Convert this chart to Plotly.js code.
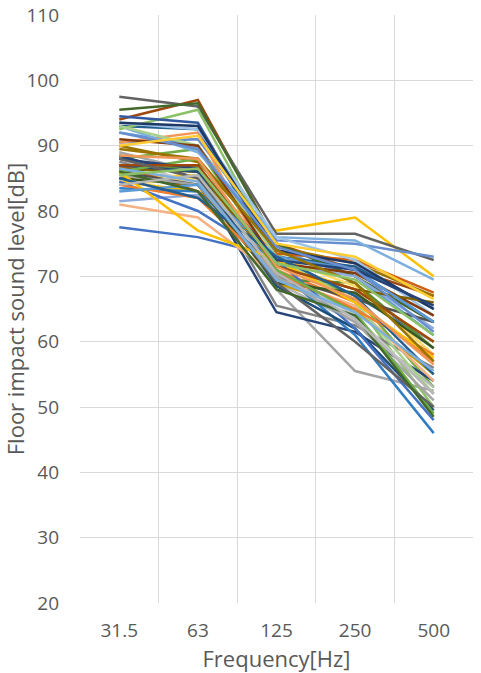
<!DOCTYPE html>
<html>
<head>
<meta charset="utf-8">
<script src="https://cdn.plot.ly/plotly-3.0.1.min.js"></script>
<style>html,body{margin:0;padding:0;background:#fff;}#chart{width:481px;height:673px;}</style>
</head>
<body>
<div id="chart"></div>
<script>
const frequencies = ["31.5", "63", "125", "250", "500"];

const s01 = [77.5, 76, 73, 67, 60];
const s02 = [86.5, 87, 71, 66, 57];
const s03 = [89, 86, 68, 55.5, 52.5];
const s04 = [84.5, 83, 77, 79, 70];
const s05 = [92, 90, 74, 70, 61];
const s06 = [88, 89.5, 72, 67, 53];
const s07 = [88.5, 85, 64.5, 61.5, 54];
const s08 = [94, 97, 75, 71, 67];
const s09 = [97.5, 96, 76.5, 76.5, 72.5];
const s10 = [90, 87.5, 74.5, 72, 67];
const s11 = [93, 92.5, 73, 71.5, 65];
const s12 = [95.5, 96.5, 75, 70, 63];
const s13 = [90.5, 91, 75.5, 75, 73];
const s14 = [90.5, 92, 70, 65, 58];
const s15 = [86, 85, 69, 63, 53];
const s16 = [85, 85.5, 72, 68, 60];
const s17 = [93, 89, 76, 75.5, 69.5];
const s18 = [92.5, 95.5, 73.5, 66, 50];
const s19 = [94.5, 93.5, 73, 71, 63];
const s20 = [87, 83, 73.5, 72.5, 67.5];
const s21 = [87.5, 86, 65.5, 62.5, 56];
const s22 = [85.5, 84, 69, 65, 55];
const s23 = [83.5, 83, 71, 61, 46];
const s24 = [86, 87, 69.5, 69, 59];
const s25 = [81.5, 82.5, 72, 70, 62];
const s26 = [81, 79, 70, 65.5, 54];
const s27 = [88, 84, 71, 64, 52];
const s28 = [84, 85, 73, 68.5, 58];
const s29 = [93.5, 92.5, 76, 72.5, 64];
const s30 = [93, 90, 73, 66, 52];
const s31 = [93.5, 93, 74, 72, 65];
const s32 = [91, 90, 72, 70.5, 64];
const s33 = [86, 84, 70, 66.5, 63];
const s34 = [86.5, 86, 71.5, 68, 66];
const s35 = [87, 86, 68.5, 62, 49.5];
const s36 = [85, 84, 69, 67.5, 59];
const s37 = [84.5, 80, 72.5, 62, 48];
const s38 = [84, 82, 70.5, 65, 58];
const s39 = [85.5, 84, 70, 63, 51];
const s40 = [86, 77, 72.5, 66, 57.5];
const s41 = [83, 84, 73, 71, 63];
const s42 = [86, 88, 71, 64.5, 49];
const s43 = [88, 86.5, 72.5, 71, 65.5];
const s44 = [87, 87, 71.5, 68, 60];
const s45 = [88, 85, 69, 60, 50];
const s46 = [89.5, 88, 74, 69, 57];
const s47 = [85, 82, 73, 67, 55];
const s48 = [86, 83, 68, 64, 48.5];
const s49 = [92, 89.5, 74.5, 71, 61.5];
const s50 = [88.5, 88, 71.5, 66.5, 56.5];
const s51 = [84, 85.5, 70.5, 63.5, 52];
const s52 = [90, 91.5, 75, 73, 66.5];
const s53 = [86.5, 84.5, 69.5, 64.5, 55.5];
const s54 = [85.5, 86.5, 72, 69.5, 61];

const seriesList = [s01,s02,s03,s04,s05,s06,s07,s08,s09,s10,s11,s12,s13,s14,s15,s16,
  s17,s18,s19,s20,s21,s22,s23,s24,s25,s26,s27,s28,s29,s30,s31,s32,s33,s34,s35,s36,
  s37,s38,s39,s40,s41,s42,s43,s44,s45,s46,s47,s48,s49,s50,s51,s52,s53,s54];

const palette = ["#4472C4","#ED7D31","#A5A5A5","#FFC000","#5B9BD5","#70AD47",
  "#264478","#9E480E","#636363","#997300","#255E91","#43682B",
  "#698ED0","#F1975A","#B7B7B7","#FFCD33","#7CAFDD","#8CC168",
  "#335AA1","#D26012","#848484","#CC9A00","#327DC2","#5A8A36",
  "#8FAADC","#F4B183","#C9C9C9","#FFD966","#9DC3E6","#A9D18E",
  "#203864","#843C0C","#525252","#7F6000","#1F4E79","#385723"];

const traces = seriesList.map((vals, i) => ({
  type: "scatter",
  mode: "lines",
  x: frequencies,
  y: vals,
  line: {color: palette[i % palette.length], width: 2.5},
  showlegend: false,
  hoverinfo: "skip"
}));

const fontFamily = "'Open Sans', sans-serif";
const layout = {
  width: 481,
  height: 673,
  margin: {l: 80, r: 8, t: 15, b: 70},
  paper_bgcolor: "#ffffff",
  plot_bgcolor: "#ffffff",
  showlegend: false,
  font: {family: fontFamily, color: "#595959"},
  xaxis: {
    type: "category",
    range: [-0.5, 4.5],
    tickson: "boundaries",
    showgrid: true,
    gridcolor: "#D9D9D9",
    gridwidth: 1,
    ticks: "",
    showline: false,
    zeroline: false,
    tickfont: {size: 19, color: "#595959", family: fontFamily},
    ticklabelstandoff: 14,
    title: {text: "Frequency[Hz]", font: {size: 22, color: "#595959", family: fontFamily}, standoff: 4},
    automargin: false
  },
  yaxis: {
    range: [20, 110],
    dtick: 10,
    tick0: 20,
    showgrid: true,
    gridcolor: "#D9D9D9",
    gridwidth: 1,
    zeroline: false,
    showline: false,
    ticks: "",
    tickfont: {size: 19, color: "#595959", family: fontFamily},
    ticklabelstandoff: 20,
    title: {text: "Floor impact sound level[dB]", font: {size: 22, color: "#595959", family: fontFamily}, standoff: 11},
    automargin: false
  }
};

Plotly.newPlot("chart", traces, layout, {displayModeBar: false, staticPlot: true});
</script>
</body>
</html>
